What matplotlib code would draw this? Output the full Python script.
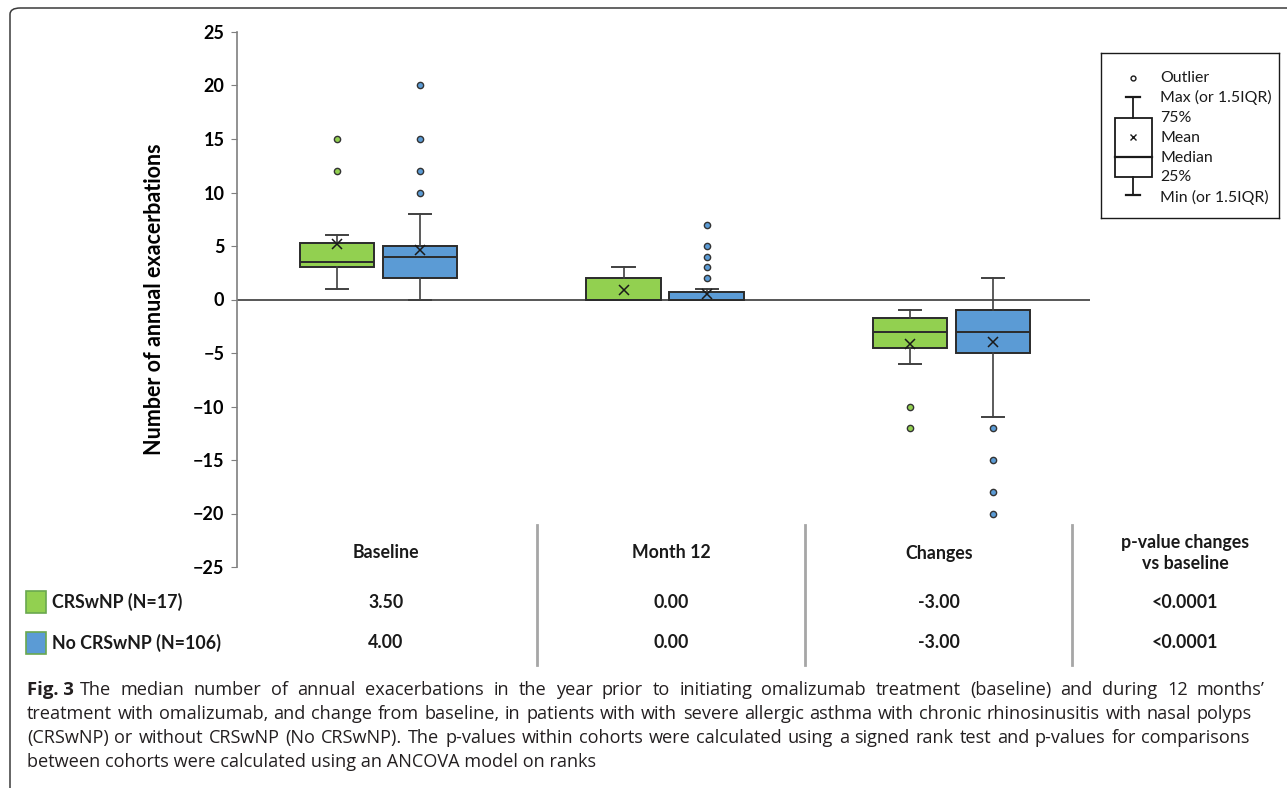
import matplotlib
matplotlib.use("Agg")
import matplotlib.pyplot as plt
from matplotlib.patches import FancyBboxPatch, Rectangle
import numpy as np

W, H = 1287, 788

# box plot statistics per cohort and time point
periods = ["Baseline", "Month 12", "Changes"]
cohorts = ["CRSwNP (N=17)", "No CRSwNP (N=106)"]
colors = ["#92D050", "#5B9BD5"]

crs_q1 = [3.0, 0.0, -4.5]
crs_med = [3.5, 0.0, -3.0]
crs_q3 = [5.25, 2.0, -1.75]
crs_lo = [1.0, 0.0, -6.0]
crs_hi = [6.0, 3.0, -1.0]
crs_mean = [5.2, 0.9, -4.2]
crs_fliers = [[12, 15], [], [-10, -12]]

no_q1 = [2.0, 0.0, -5.0]
no_med = [4.0, 0.0, -3.0]
no_q3 = [5.0, 0.7, -1.0]
no_lo = [0.0, 0.0, -11.0]
no_hi = [8.0, 1.0, 2.0]
no_mean = [4.6, 0.5, -4.0]
no_fliers = [[10, 12, 15, 20], [2, 3, 4, 5, 7], [-12, -15, -18, -20]]

# table under the chart
table_headers = ["Baseline", "Month 12", "Changes", "p-value changes\nvs baseline"]
crs_table = ["3.50", "0.00", "-3.00", "<0.0001"]
no_table = ["4.00", "0.00", "-3.00", "<0.0001"]

caption_lines = [
    "The median number of annual exacerbations in the year prior to initiating omalizumab treatment (baseline) and during 12 months\u2019",
    "treatment with omalizumab, and change from baseline, in patients with with severe allergic asthma with chronic rhinosinusitis with nasal polyps",
    "(CRSwNP) or without CRSwNP (No CRSwNP). The p-values within cohorts were calculated using a signed rank test and p-values for comparisons",
    "between cohorts were calculated using an ANCOVA model on ranks",
]

BOLD = "Lato"
TEXT = "Open Sans"


def fx(px):
    return px / W


def fy(py):
    return 1 - py / H


fig = plt.figure(figsize=(W / 100, H / 100), dpi=100)
renderer = fig.canvas.get_renderer()

# outer frame with rounded corner
frame = FancyBboxPatch((fx(10), fy(1200)), 2.0, fy(8) - fy(1200),
                       boxstyle="round,pad=0,rounding_size=0.008",
                       transform=fig.transFigure, fill=False,
                       edgecolor="#3a3a3a", linewidth=1.1, clip_on=False)
fig.patches.append(frame)

ax = fig.add_axes([fx(237), fy(567), fx(1090) - fx(237), fy(32) - fy(567)])
ax.set_ylim(-25, 25)
ax.set_xlim(-0.494, 2.483)

offset = 0.145
width = 0.26


def make_stats(q1, med, q3, lo, hi, mean, fl):
    return [dict(q1=q1[i], med=med[i], q3=q3[i], whislo=lo[i], whishi=hi[i],
                 mean=mean[i], fliers=np.array(fl[i], dtype=float))
            for i in range(len(periods))]


groups = [
    make_stats(crs_q1, crs_med, crs_q3, crs_lo, crs_hi, crs_mean, crs_fliers),
    make_stats(no_q1, no_med, no_q3, no_lo, no_hi, no_mean, no_fliers),
]
line_col = "#2b2b2b"
for k, (stats, col) in enumerate(zip(groups, colors)):
    pos = np.arange(len(periods)) + (k - 0.5) * 2 * offset
    ax.bxp(stats, positions=pos, widths=width, patch_artist=True,
           showmeans=True, showfliers=True, capwidths=0.077,
           boxprops=dict(facecolor=col, edgecolor=line_col, linewidth=1.4),
           medianprops=dict(color=line_col, linewidth=1.4),
           whiskerprops=dict(color="#404040", linewidth=1.2),
           capprops=dict(color="#404040", linewidth=1.4),
           meanprops=dict(marker="x", markeredgecolor="#1a1a1a",
                          markersize=7.5, markeredgewidth=1.1),
           flierprops=dict(marker="o", markerfacecolor=col,
                           markeredgecolor="#333333", markersize=4.5,
                           markeredgewidth=1.0))

ax.axhline(0, color="#3a3a3a", linewidth=1.2, zorder=0)
for s in ["top", "right", "bottom"]:
    ax.spines[s].set_visible(False)
ax.spines["left"].set_color("#7f7f7f")
ax.spines["left"].set_linewidth(1.2)
ax.set_xticks([])
ax.set_yticks(np.arange(-25, 26, 5))
ax.tick_params(axis="y", direction="out", length=4, color="#7f7f7f",
               labelsize=13, pad=5)
for lab in ax.get_yticklabels():
    lab.set_fontfamily(BOLD)
    lab.set_fontweight("bold")
ax.set_ylabel("Number of annual exacerbations", fontsize=15.5,
              fontweight="bold", family=BOLD)
ax.yaxis.set_label_coords(fx(165 - 237) / (fx(1090) - fx(237)), 0.5)

# explanatory key for the box plot elements
kax = fig.add_axes([fx(1101), fy(218), fx(1279) - fx(1101), fy(53) - fy(218)])
kax.set_xlim(1101, 1279)
kax.set_ylim(218, 53)
kax.set_xticks([])
kax.set_yticks([])
for s in kax.spines.values():
    s.set_color("#1a1a1a")
    s.set_linewidth(1.0)
kc = 1133
kax.plot([kc], [78], marker="o", markersize=3.5, markerfacecolor="white",
         markeredgecolor="#1a1a1a", markeredgewidth=1.0)
kax.plot([kc, kc], [97, 118], color="#1a1a1a", lw=1.3)
kax.plot([kc - 7, kc + 7], [97, 97], color="#1a1a1a", lw=1.6)
kax.plot([kc, kc], [177, 195], color="#1a1a1a", lw=1.3)
kax.plot([kc - 7, kc + 7], [195, 195], color="#1a1a1a", lw=1.6)
kax.add_patch(Rectangle((1115, 118), 37, 59, fill=False,
                        edgecolor="#1a1a1a", lw=1.3))
kax.plot([1115, 1152], [157, 157], color="#1a1a1a", lw=1.6)
kax.plot([kc], [137], marker="x", markersize=5, color="#1a1a1a",
         markeredgewidth=1.0)
key_labels = ["Outlier", "Max (or 1.5IQR)", "75%", "Mean", "Median", "25%",
              "Min (or 1.5IQR)"]
key_y = [78, 97, 118, 138, 158, 177, 197]
for t, yy in zip(key_labels, key_y):
    kax.text(1160, yy, t, fontsize=11.4, family=BOLD, va="center",
             ha="left", color="#1a1a1a")

# summary table of medians
col_x = [386, 671, 939, 1185]
for x, t in zip(col_x, table_headers):
    fig.text(fx(x), fy(553), t, ha="center", va="center", fontsize=12.8,
             fontweight="bold", family=BOLD, linespacing=1.35,
             color="#1a1a1a")
for x in [537, 805, 1072]:
    fig.add_artist(plt.Line2D([fx(x), fx(x)], [fy(525), fy(665)],
                              color="#a6a6a6", linewidth=2))
for row_y, label, vals, col in [(602, cohorts[0], crs_table, colors[0]),
                                (643, cohorts[1], no_table, colors[1])]:
    fig.add_artist(Rectangle((fx(26), fy(row_y + 11)), fx(20), fy(row_y - 11) - fy(row_y + 11),
                             transform=fig.transFigure, facecolor=col,
                             edgecolor="#6aa84f", linewidth=1.2))
    fig.text(fx(52), fy(row_y), label, ha="left", va="center", fontsize=12.8,
             fontweight="bold", family=BOLD, color="#1a1a1a")
    for x, v in zip(col_x, vals):
        fig.text(fx(x), fy(row_y), v, ha="center", va="center", fontsize=12.8,
                 fontweight="bold", family=BOLD, color="#1a1a1a")


def justified_line(text, x0, x1, y, **kw):
    # place words one by one so the line fills x0..x1
    words = text.split(" ")
    arts = [fig.text(0, fy(y), w, ha="left", va="center", **kw) for w in words]
    widths = [a.get_window_extent(renderer).width for a in arts]
    gap = (x1 - x0 - sum(widths)) / max(len(words) - 1, 1)
    x = x0
    for a, w in zip(arts, widths):
        a.set_x(fx(x))
        x += w + gap


# figure caption
cap_kw = dict(fontsize=13.1, family=TEXT, color="#231f20")
cap_y = [690, 714, 738, 762]
fig.text(fx(27), fy(cap_y[0]), "Fig. 3", ha="left", va="center",
         fontsize=13.3, fontweight="bold", family=TEXT, color="#231f20")
justified_line(caption_lines[0], 80, 1265, cap_y[0], **cap_kw)
justified_line(caption_lines[1], 27, 1252, cap_y[1], **cap_kw)
justified_line(caption_lines[2], 27, 1250, cap_y[2], **cap_kw)
fig.text(fx(27), fy(cap_y[3]), caption_lines[3], ha="left", va="center",
         **cap_kw)

fig.savefig("out.png", dpi=100)
